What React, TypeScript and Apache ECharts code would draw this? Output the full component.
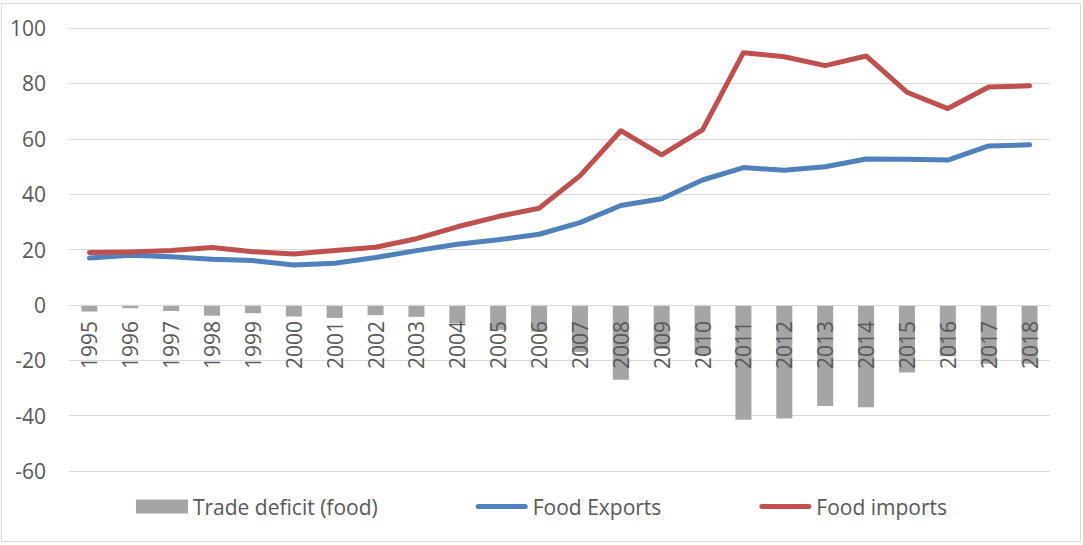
import React, { useEffect, useRef } from "react";
import * as echarts from "echarts";

const years = ["1995","1996","1997","1998","1999","2000","2001","2002","2003","2004","2005","2006","2007","2008","2009","2010","2011","2012","2013","2014","2015","2016","2017","2018"];
const tradeDeficit = [-2.4,-1.2,-2.2,-3.9,-3.0,-4.2,-4.7,-3.7,-4.3,-6.6,-9.0,-9.6,-17.0,-27.0,-15.9,-18.0,-41.5,-41.0,-36.5,-37.0,-24.4,-18.6,-21.3,-21.3];
const foodExports = [16.9,17.9,17.4,16.5,16.0,14.4,15.0,17.1,19.6,21.9,23.5,25.5,29.7,35.9,38.3,45.1,49.6,48.6,49.9,52.7,52.6,52.3,57.4,57.8];
const foodImports = [18.9,19.1,19.6,20.7,19.2,18.4,19.6,20.8,23.9,28.2,31.9,34.9,46.6,62.9,54.2,63.2,91.1,89.6,86.4,89.9,76.8,70.9,78.7,79.1];

const FONT = "'Open Sans', sans-serif";
const TXT = "#595959";
const LINE_ICON =
  "path://M0,0 L0,0 Z M52,14 L52,14 Z M2.5,4.5 L49.5,4.5 A2.5,2.5 0 0 1 49.5,9.5 L2.5,9.5 A2.5,2.5 0 0 1 2.5,4.5 Z";

export default function App() {
  const ref = useRef<HTMLDivElement>(null);
  useEffect(() => {
    if (!ref.current) return;
    const chart = echarts.init(ref.current, null, { renderer: "svg" });
    const gridTop = 28;
    const gridBottomPx = 471;
    const yMin = -60;
    const yMax = 100;
    const zeroOffset = ((0 - yMin) / (yMax - yMin)) * (gridBottomPx - gridTop);
    chart.setOption({
      animation: false,
      backgroundColor: "#ffffff",
      textStyle: { fontFamily: FONT },
      graphic: [
        {
          type: "rect",
          shape: { x: 1.5, y: 3.5, width: 1079, height: 538 },
          style: { fill: "none", stroke: "#d9d9d9", lineWidth: 1 },
          silent: true,
        },
      ],
      grid: { left: 69, right: 33, top: gridTop, bottom: 545 - gridBottomPx, containLabel: false },
      legend: {
        bottom: 23,
        left: "center",
        itemGap: 98,
        itemWidth: 52,
        itemHeight: 14,
        textStyle: { color: TXT, fontSize: 21, fontFamily: FONT },
        data: [
          { name: "Trade deficit (food)", icon: "rect" },
          { name: "Food Exports", icon: LINE_ICON },
          { name: "Food imports", icon: LINE_ICON },
        ],
      },
      xAxis: {
        type: "category",
        data: years,
        z: 3,
        offset: -zeroOffset,
        axisLine: { onZero: false, lineStyle: { color: "#d9d9d9", width: 1 } },
        axisTick: { show: false },
        axisLabel: { rotate: 90, color: TXT, fontSize: 21, margin: 16, fontFamily: FONT },
      },
      yAxis: {
        type: "value",
        min: yMin,
        max: yMax,
        interval: 20,
        axisLine: { show: false },
        axisTick: { show: false },
        axisLabel: { color: TXT, fontSize: 21, margin: 23, fontFamily: FONT },
        splitLine: { lineStyle: { color: "#d9d9d9", width: 1 } },
      },
      series: [
        {
          name: "Trade deficit (food)",
          type: "bar",
          data: tradeDeficit,
          barWidth: 16,
          itemStyle: { color: "#a5a5a5" },
        },
        {
          name: "Food Exports",
          type: "line",
          data: foodExports,
          symbol: "none",
          itemStyle: { color: "#4f81bd" },
          lineStyle: { color: "#4f81bd", width: 5, cap: "round", join: "round" },
        },
        {
          name: "Food imports",
          type: "line",
          data: foodImports,
          symbol: "none",
          itemStyle: { color: "#c0504d" },
          lineStyle: { color: "#c0504d", width: 5, cap: "round", join: "round" },
        },
      ],
    });
    return () => chart.dispose();
  }, []);
  return (
    <div
      ref={ref}
      style={{ position: "fixed", left: 0, top: 0, width: 1083, height: 545 }}
    />
  );
}
